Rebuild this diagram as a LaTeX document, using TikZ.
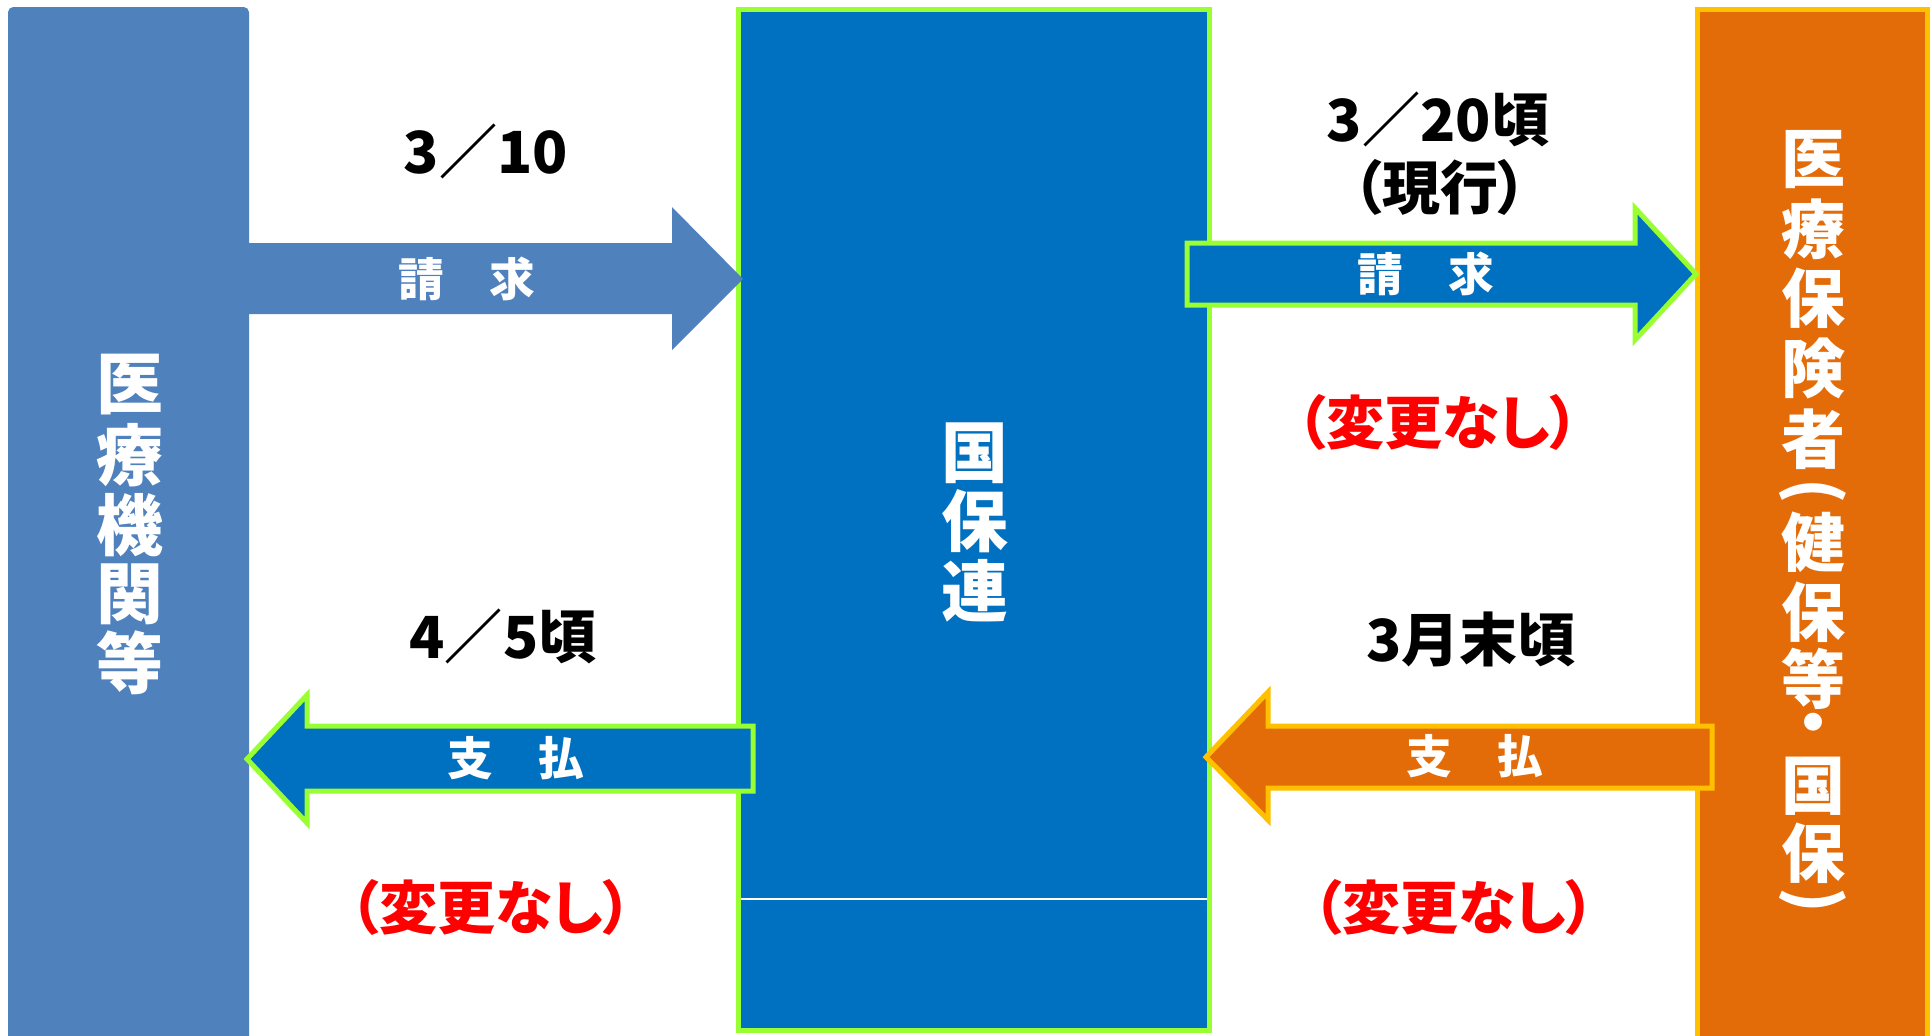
\documentclass[tikz,border=0pt]{standalone}
\usepackage{fontspec}
\newfontfamily\jp{Noto Sans CJK JP}
\newfontfamily\jpp[RawFeature=+palt]{Noto Sans CJK JP}
\newfontfamily\jpv[RawFeature=+vert]{Noto Sans CJK JP}
\usepackage{tikz}
\usetikzlibrary{positioning}

\definecolor{kikanblue}{HTML}{4F81BD}
\definecolor{renblue}{HTML}{0070C0}
\definecolor{rengreen}{RGB}{153,255,51}
\definecolor{hokenorange}{HTML}{E36C09}
\definecolor{hokengold}{HTML}{FFC000}

\tikzset{
	hizuke/.style={font=\jpp\bfseries\fontsize{16.5}{19}\selectfont, text=black, inner sep=0pt},
	henko/.style={font=\jpp\bfseries\fontsize{16.5}{19}\selectfont, text=red, inner sep=0pt},
	yatext/.style={font=\jp\bfseries\fontsize{13}{15}\selectfont, text=white, inner sep=0pt},
	tate/.style={font=\jpv\bfseries\fontsize{19}{20}\selectfont, text=white, inner sep=0pt},
	tatesmall/.style={font=\jpv\bfseries\fontsize{18.2}{20}\selectfont, text=white, inner sep=0pt},
	kakko/.style={font=\jp\bfseries\fontsize{18.2}{20}\selectfont, text=white, inner sep=0pt, rotate=-90},
	waku/.style={line width=1.42pt, line join=miter}
}

\begin{document}
\begin{tikzpicture}[x=0.01cm,y=-0.01cm]
					
					\fill[white] (0,0) rectangle (1930,1035);
					\useasboundingbox (0,0) rectangle (1930,1035);
					
					% bars
					\fill[kikanblue, rounded corners=1.5pt] (8,7) rectangle (249,1045);
					\filldraw[waku, fill=hokenorange, draw=hokengold] (1697.5,9.5) rectangle (1927.5,1045);
					\filldraw[waku, fill=renblue, draw=rengreen] (738.5,9.5) rectangle (1209.5,1030.5);
					\draw[white, line width=0.4pt] (741,899) -- (1207,899);
					
					% block arrows
					\fill[kikanblue] (240,243) -- (672,243) -- (672,207) -- (743,279) -- (672,350) -- (672,314) -- (240,314) -- cycle;
					\filldraw[waku, fill=renblue, draw=rengreen] (1187,243) -- (1635,243) -- (1635,208) -- (1696,274) -- (1635,340) -- (1635,305) -- (1187,305) -- cycle;
					\filldraw[waku, fill=renblue, draw=rengreen] (753,726) -- (307,726) -- (307,695) -- (247,759) -- (307,823) -- (307,791) -- (753,791) -- cycle;
					\filldraw[waku, fill=hokenorange, draw=hokengold] (1712,726) -- (1268,726) -- (1268,692) -- (1206,757) -- (1268,820) -- (1268,788) -- (1712,788) -- cycle;
					
					% vertical names
					\foreach \c/\y [count=\i] in {医/385,療/455,機/525,関/594,等/663}
						\node[tate] (kikan\i) at (130,\y) {\c};
					\foreach \c/\y [count=\i] in {国/453,保/521,連/591}
						\node[tate] (kokuhoren\i) at (975,\y) {\c};
					\foreach \c/\y [count=\i] in {医/160,療/229,保/298,険/368,者/439,健/542,保/612,等/679,・/730,国/786,保/853}
						\node[tatesmall] (hokensha\i) at (1813,\y) {\c};
					\node[kakko] (hokenopen) at (1813,491) {(};
					\node[kakko] (hokenclose) at (1813,900) {)};
					
					\node[hizuke] (seikyuday) at (486,151) {3／10};
					\node[yatext] (seikyuA) at (467,279) {請　求};
					\node[hizuke] (shiharaiday) at (503,636) {4／5頃};
					\node[yatext] (shiharaiA) at (516,758) {支　払};
					\node[henko] (henkoA) at (491,907) {（変更なし）};
					
					\node[hizuke] (seikyuday2) at (1438,119) {3／20頃};
					\node[hizuke] (genko) at (1440,187) {（現行）};
					\node[yatext] (seikyuB) at (1426,274) {請　求};
					\node[henko] (henkoB) at (1438,422) {（変更なし）};
					\node[hizuke] (shiharaiday2) at (1471,639) {3月末頃};
					\node[yatext] (shiharaiB) at (1475,756) {支　払};
					\node[henko] (henkoC) at (1454,907) {（変更なし）};
					
\end{tikzpicture}
\end{document}
